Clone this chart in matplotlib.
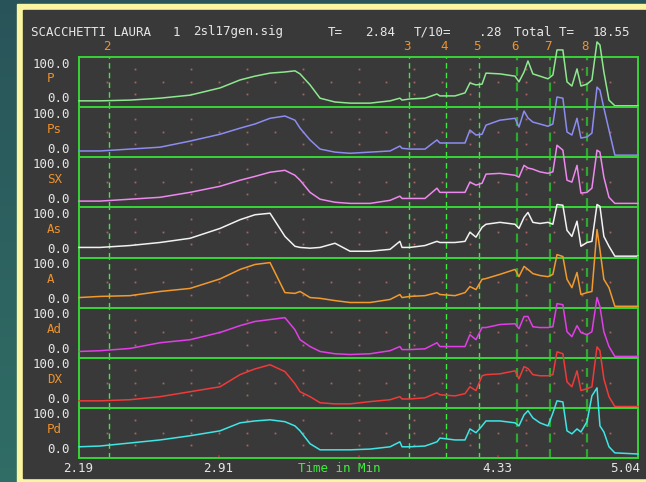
import matplotlib
matplotlib.use("Agg")
import matplotlib.pyplot as plt
import numpy as np
from matplotlib.patches import Rectangle

W, H = 646, 482

# shared time axis (min)
t = [2.190, 2.297, 2.450, 2.603, 2.756, 2.909, 3.011, 3.087, 3.164, 3.240,
     3.291, 3.317, 3.368, 3.419, 3.495, 3.572, 3.674, 3.776, 3.826, 3.837,
     3.877, 3.954, 4.015, 4.030, 4.107, 4.158, 4.183, 4.214, 4.245, 4.265,
     4.336, 4.413, 4.433, 4.459, 4.479, 4.504, 4.540, 4.581, 4.606, 4.627,
     4.657, 4.678, 4.703, 4.729, 4.749, 4.780, 4.805, 4.831, 4.846, 4.866,
     4.892, 4.922, 5.040]

P = [3, 3, 5, 10, 18, 37, 58, 68, 76, 79, 82, 74, 45, 10, 0, -3, -3, 3, 10, 5,
     8, 10, 21, 16, 16, 24, 50, 45, 47, 76, 74, 68, 53, 79, 108, 74, 68, 61, 71, 137,
     137, 53, 42, 87, 42, 47, 58, 158, 150, 79, 5, -10, -10]
Ps = [3, 3, 8, 13, 29, 47, 63, 74, 89, 95, 84, 63, 32, 8, 0, -3, 0, 3, 16, 10,
      8, 8, 32, 24, 24, 24, 58, 45, 47, 71, 84, 89, 66, 108, 90, 79, 74, 68, 74, 145,
      142, 53, 45, 89, 37, 40, 50, 171, 163, 116, 58, -8, -8]
SX = [3, 3, 8, 13, 26, 42, 58, 68, 79, 84, 71, 58, 26, 8, 0, -3, -3, 5, 16, 10,
      10, 10, 37, 26, 26, 26, 53, 45, 50, 74, 76, 71, 66, 97, 90, 87, 80, 76, 80, 150,
      137, 58, 53, 97, 24, 26, 37, 137, 132, 66, 13, -3, -3]
As = [13, 13, 18, 26, 37, 63, 86, 99, 103, 42, 16, 13, 11, 13, 24, 3, 3, 8, 29, 13,
      13, 18, 29, 26, 26, 29, 53, 40, 66, 74, 79, 74, 63, 92, 105, 79, 76, 79, 74, 126,
      124, 58, 42, 82, 16, 26, 29, 126, 121, 42, 16, -10, -10]
A = [13, 16, 18, 29, 37, 62, 87, 100, 105, 26, 24, 29, 13, 11, 5, 0, 0, 8, 21, 13,
     16, 18, 26, 21, 18, 26, 42, 34, 61, 63, 74, 87, 68, 95, 87, 76, 71, 68, 74, 126,
     121, 61, 39, 79, 21, 26, 29, 192, 139, 61, 39, -10, -10]
Ad = [3, 5, 11, 26, 34, 53, 71, 82, 87, 92, 60, 34, 16, 3, -3, -5, -3, 5, 16, 8,
      8, 10, 26, 16, 16, 16, 47, 34, 66, 66, 74, 76, 63, 95, 95, 68, 66, 66, 68, 129,
      126, 55, 42, 71, 53, 47, 55, 145, 121, 55, 16, -10, -10]
DX = [5, 5, 8, 16, 29, 42, 74, 89, 100, 82, 50, 29, 16, 0, -3, -3, 3, 8, 16, 10,
      10, 13, 26, 21, 18, 24, 42, 32, 71, 74, 76, 84, 63, 95, 90, 74, 71, 71, 74, 134,
      129, 55, 42, 84, 32, 37, 42, 147, 137, 63, 16, -10, -10]
Pd = [16, 18, 26, 34, 45, 58, 79, 84, 87, 82, 71, 58, 24, 8, 8, 8, 10, 16, 29, 16,
      16, 18, 29, 39, 34, 34, 63, 53, 71, 84, 84, 79, 71, 100, 111, 92, 79, 71, 105, 137,
      134, 58, 50, 63, 55, 82, 150, 171, 71, 55, 16, 0, -3]

names = ["P", "Ps", "SX", "As", "A", "Ad", "DX", "Pd"]
series = [P, Ps, SX, As, A, Ad, DX, Pd]
colors = ["#8ee88e", "#8c8cf2", "#ee88ee", "#f2f2f2", "#f39a2c", "#e23ee8", "#f03a3a", "#3ee6e6"]

marker_labels = ["2", "3", "4", "5", "6", "7", "8"]
marker_t = [2.343, 3.873, 4.061, 4.230, 4.424, 4.592, 4.781]

tick_t = [2.19, 2.9025, 4.3275, 5.04]
tick_labels = ["2.19", "2.91", "4.33", "5.04"]

t0, t1 = 2.19, 5.04
X0, X1, Y0, Y1 = 79, 638, 57, 458
ph = (Y1 - Y0) / 8.0

WHITE = "#e6e6e6"
ORANGE = "#f0922a"
GREEN = "#36d436"
MONO = "DejaVu Sans Mono"


def tx(tt):
    return X0 + (tt - t0) / (t1 - t0) * (X1 - X0)


def text(x, y, s, **kw):
    kw.setdefault("family", MONO)
    kw.setdefault("fontsize", 9)
    kw.setdefault("color", WHITE)
    kw.setdefault("va", "center")
    fig.text(x / W, 1 - y / H, s, **kw)


fig = plt.figure(figsize=(W / 100, H / 100), dpi=100)

# background: teal gradient, yellow frame, dark screen
bg = fig.add_axes([0, 0, 1, 1], zorder=-10)
grad = np.linspace(0, 1, 100).reshape(-1, 1)
c0 = np.array([0.16, 0.33, 0.35])
c1 = np.array([0.19, 0.43, 0.40])
img = c0 + (c1 - c0) * grad[:, :, None]
bg.imshow(img, extent=[0, W, H, 0], aspect="auto")
bg.add_patch(Rectangle((17, 4), W - 17, H - 4, color="#fbf5a2"))
bg.add_patch(Rectangle((23, 10), W - 23, 468, color="#393939"))
bg.set_xlim(0, W)
bg.set_ylim(H, 0)
bg.axis("off")

# small grid dots
dot_t = [t0 + k * (t1 - t0) / 20 for k in range(1, 20)]

for i, (name, vals, col) in enumerate(zip(names, series, colors)):
    top = Y0 + i * ph
    ax = fig.add_axes([X0 / W, 1 - (top + ph) / H, (X1 - X0) / W, ph / H], zorder=i)
    ax.set_facecolor("none")
    ax.set_xlim(t0, t1)
    ax.set_ylim(-13.5, 118.4)
    ax.set_xticks([])
    ax.set_yticks([])
    for s in ax.spines.values():
        s.set_color(GREEN)
        s.set_linewidth(1.4)

    for k, dt in enumerate(dot_t, start=1):
        ax.plot(dt, 53, "s", ms=1.3, color="#a86464", mew=0)
        if k % 2 == 0:
            ax.plot([dt, dt], [87, 21], "s", ms=1.3, color="#a86464", mew=0)

    for j, mt in enumerate(marker_t):
        dark = j >= 4
        ax.axvline(mt, color="#2fa82f" if dark else "#3ee83e",
                   lw=1.6 if dark else 1.0, ls=(0, (4, 3)), zorder=1)

    ax.plot(t, vals, color=col, lw=1.1, clip_on=False, zorder=5 + i)

    text(70, top + 7, "100.0", ha="right")
    text(70, top + 42, "0.0", ha="right")
    text(47, top + 22, name, ha="left", color=ORANGE)

    if i == 7:
        for k in range(5):
            ax.plot([t0 + k * (t1 - t0) / 4] * 2, [-13.5, -8], color="#b83030",
                    lw=1.2, clip_on=False, zorder=2)

# header
text(31, 32, "SCACCHETTI LAURA", ha="left")
text(173, 32, "1", ha="left")
text(193, 32, "2sl17gen.sig", ha="left")
text(328, 32, "T=", ha="left")
text(365, 32, "2.84", ha="left")
text(414, 32, "T/10=", ha="left")
text(479, 32, ".28", ha="left")
text(514, 32, "Total T=", ha="left")
text(593, 32, "18.55", ha="left")

for lab, mt in zip(marker_labels, marker_t):
    text(tx(mt) - 2, 46, lab, ha="center", color=ORANGE)

# bottom labels
for lab, tt in zip(tick_labels, tick_t):
    if tt == t1:
        text(640, 468, lab, ha="right")
    else:
        text(tx(tt) - 1, 468, lab, ha="center")
text(339, 468, "Time in Min", ha="center", color="#3cf03c")

fig.savefig("out.png", dpi=100)
